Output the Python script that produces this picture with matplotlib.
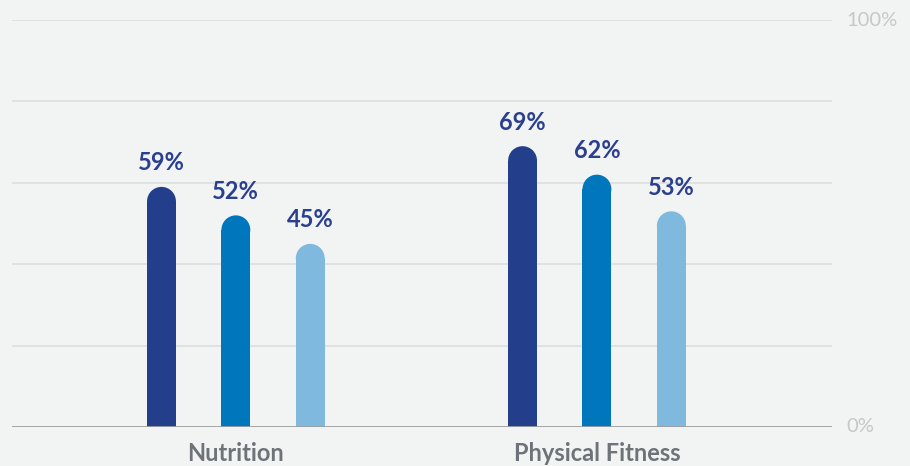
import numpy as np
import matplotlib
matplotlib.use("Agg")
import matplotlib.pyplot as plt
from matplotlib.patches import Ellipse
from matplotlib.transforms import offset_copy

plt.rcParams['font.family'] = ['Lato', 'DejaVu Sans']

# data
categories = ["Nutrition", "Physical Fitness"]
series_a = [59, 69]
series_b = [52, 62]
series_c = [45, 53]
colors = ["#233e8b", "#0077bd", "#80b9de"]

bg = "#f2f4f3"
fig = plt.figure(figsize=(9.10, 4.66), dpi=100, facecolor=bg)
ax = fig.add_axes([12/910, 39/466, 820/910, 407/466], facecolor=bg)

x = np.arange(len(categories))
offsets = [-0.206, 0.0, 0.206]
width = 0.080

ax.set_xlim(-0.620, 1.651)
ax.set_ylim(0, 100)

# radius of the round top in data units
fig.canvas.draw()
px_per_x = ax.transData.transform((1, 0))[0] - ax.transData.transform((0, 0))[0]
px_per_y = ax.transData.transform((0, 1))[1] - ax.transData.transform((0, 0))[1]
r_px = width * px_per_x / 2
r_y = r_px / px_per_y

for vals, off, col in zip([series_a, series_b, series_c], offsets, colors):
    for xi, v in zip(x, vals):
        cx = xi + off
        ax.bar(cx, v - r_y, width=width, color=col, zorder=3)
        ax.add_patch(Ellipse((cx, v - r_y), width, 2*r_y, color=col, zorder=3, lw=0))
        ax.annotate("{}%".format(v), (cx, v), xytext=(0, 9), textcoords="offset points",
                    ha="center", va="bottom", fontsize=17, fontweight="bold", color="#2b3f8f")

for y in [20, 40, 60, 80, 100]:
    ax.axhline(y, color="#dfe1e0", lw=1.3, zorder=1)
ax.axhline(0, color="#9c9e9e", lw=2, zorder=4)

for s in ax.spines.values():
    s.set_visible(False)
ax.set_yticks([])
ax.set_xticks(x)
ax.set_xticklabels(categories, fontsize=17, fontweight="bold", color="#6d7378")
ax.tick_params(axis="x", length=0, pad=11)

label_tr = offset_copy(ax.get_yaxis_transform(), fig=fig, x=14, y=0, units="dots")
for y, t in [(0, "0%"), (100, "100%")]:
    ax.text(1.0, y, t, transform=label_tr, ha="left", va="center",
            fontsize=14.5, color="#c6c8c8")

fig.savefig("out.png", dpi=100, facecolor=bg)
